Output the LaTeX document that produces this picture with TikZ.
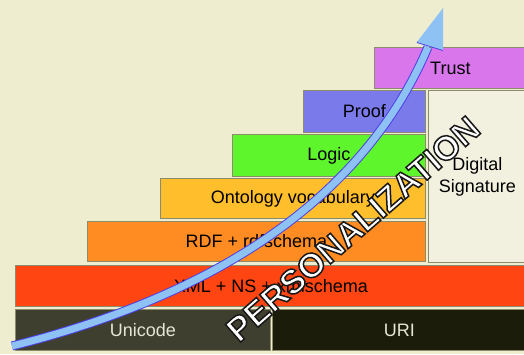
\documentclass[tikz,border=0pt]{standalone}
\usepackage{fontspec}
\setmainfont{Liberation Sans}
\definecolor{bgc}{HTML}{EEEDD0}
\definecolor{sigc}{HTML}{F2F1DF}
\definecolor{trustc}{HTML}{DA76EC}
\definecolor{proofc}{HTML}{7A7AEA}
\definecolor{logicc}{HTML}{5EF52C}
\definecolor{ontoc}{HTML}{FFBE2C}
\definecolor{rdfc}{HTML}{FF8C22}
\definecolor{xmlc}{HTML}{FF4612}
\definecolor{unic}{HTML}{3F3F30}
\definecolor{uric}{HTML}{1B1D0A}
\definecolor{edgec}{HTML}{8C8C6A}
\definecolor{arrowfill}{HTML}{8EC2F4}
\definecolor{arrowline}{HTML}{4E40E6}
\definecolor{lighttext}{HTML}{E6E6D6}
\newcommand\outlinedtext[1]{\special{pdf:code q 2 Tr 1.5 w 0.1 G}#1\special{pdf:code Q}}
\begin{document}
\begin{tikzpicture}[x=1pt,y=-1pt,
  layer/.style={draw=edgec, line width=0.8pt, inner sep=0pt, anchor=north west,
    font=\fontsize{18}{22}\selectfont, text=black},
  persotext/.style={rotate=41, inner sep=0pt, font=\fontsize{34}{34}\selectfont\bfseries},
  shaftout/.style={draw=arrowline, line width=9pt},
  shaftin/.style={draw=arrowfill, line width=7pt}]
\useasboundingbox (0,0) rectangle (524,354);
\fill[bgc] (0,0) rectangle (524,354);
% layers
\node[layer, fill=trustc, minimum width=152pt, minimum height=41pt] (trust) at (374,47) {Trust};
\node[layer, fill=proofc, minimum width=122pt, minimum height=42pt] (proof) at (303,90) {Proof};
\node[layer, fill=logicc, minimum width=193pt, minimum height=42pt] (logic) at (232,134) {Logic};
\node[layer, fill=sigc, minimum width=98pt, minimum height=172pt, align=center] (sig) at (428,90) {Digital\\Signature};
\node[layer, fill=ontoc, minimum width=265pt, minimum height=40pt] (onto) at (160,178) {Ontology vocabulary};
\node[layer, fill=rdfc, minimum width=338pt, minimum height=40pt] (rdf) at (87,221) {RDF + rdfschema};
\node[layer, fill=xmlc, minimum width=511pt, minimum height=41pt] (xml) at (15,265) {XML + NS + xmlschema};
\node[layer, fill=unic, text=lighttext, minimum width=255pt, minimum height=41pt] (uni) at (15,309) {Unicode};
\node[layer, fill=uric, text=lighttext, minimum width=254pt, minimum height=41pt] (uri) at (272,309) {URI};
% arrow
\coordinate (astart) at (12,346);
\coordinate (aend) at (428,47);
\coordinate (atip) at (443,8);
\coordinate (aleft) at (417,42);
\coordinate (aright) at (443,50);
\draw[arrowline, line width=1.8pt] (aleft) -- (aright);
\draw[shaftout] (astart) .. controls (292,276) and (389,139) .. (aend);
\draw[shaftin] (astart) .. controls (292,276) and (389,139) .. (aend);
\fill[arrowfill] (atip) -- (aleft) -- (aright) -- cycle;
% PERSONALIZATION
\coordinate (persoc) at (353,229);
\node[persotext, text=white] (perso) at (persoc) {\outlinedtext{PERSONALIZATION}};
\end{tikzpicture}
\end{document}
